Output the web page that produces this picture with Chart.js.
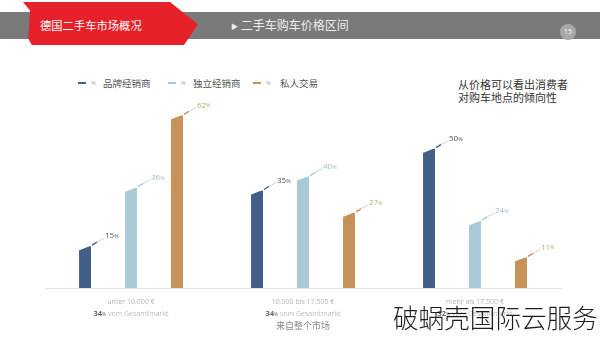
<!DOCTYPE html>
<html><head><meta charset="utf-8">
<script src="https://cdn.jsdelivr.net/npm/chart.js@4/dist/chart.umd.min.js"></script>
<style>
html,body{margin:0;padding:0;background:#fff;width:600px;height:337px;overflow:hidden;font-family:"Noto Sans CJK SC","Noto Sans",sans-serif;}
#wrap{position:relative;width:600px;height:337px;}
#c{position:absolute;left:0;top:0;}
.abs{position:absolute;white-space:nowrap;}
#band{left:0;top:12px;width:600px;height:27px;background:#7a7a7a;}
#red{left:23px;top:2px;width:175px;height:43px;background:#e62129;clip-path:polygon(0 0,84% 0,100% 52%,92% 100%,5% 100%,3% 85%,4% 20%);}
#t1{left:40px;top:17px;font-size:11.3px;line-height:16px;color:#fff;}
#t2{left:231px;top:16px;font-size:12px;line-height:18px;color:#eee;}
#pg{left:560px;top:24px;width:16px;height:16px;border-radius:50%;background:#a8a8a8;color:#fff;font:7px "Open Sans",sans-serif;line-height:16px;text-align:center;}
#note{left:458px;top:78px;font-size:11px;line-height:13px;color:#333;}
#wm{left:393px;top:304px;font-size:25.6px;line-height:26px;font-weight:300;color:#1e1e1e;}
.lg{position:absolute;top:76px;height:14px;white-space:nowrap;}
.lg .ln{position:absolute;top:6px;width:8px;height:2px;}
.lg .pc{position:absolute;top:0;font:6px "Open Sans",sans-serif;line-height:14px;color:#aaa;white-space:nowrap;}
.lg .nm{position:absolute;top:0;font-size:9.5px;line-height:14px;color:#555;white-space:nowrap;}
</style></head>
<body><div id="wrap">
<div id="band" class="abs"></div>
<div id="red" class="abs"></div>
<div id="t1" class="abs">德国二手车市场概况</div>
<div id="t2" class="abs"><span style="font-size:7px;vertical-align:1px">▶</span> 二手车购车价格区间</div>
<div id="pg" class="abs">15</div>
<div id="note" class="abs">从价格可以看出消费者<br>对购车地点的倾向性</div>
<div id="legend"></div>
<canvas id="c" width="600" height="337"></canvas>
<div id="wm" class="abs">破蜗壳国际云服务</div>
</div>
<script>
const categories = ["unter 10.000 €", "10.000 bis 17.500 €", "mehr als 17.500 €"];
const marketShare = [34, 34, 32];
const seriesNames = ["品牌经销商", "独立经销商", "私人交易"];
const brandDealer = [15, 35, 50];
const independentDealer = [36, 40, 24];
const privateSale = [62, 27, 11];
const barColors = ["#415f88", "#a9c9d7", "#c89158"];
const labelColors = ["#4d5868", "#a6c0cc", "#b8ad74"];

// legend (HTML)
const legendX = [78, 168, 253];
const lg = document.getElementById('legend');
seriesNames.forEach((n, i) => {
  const d = document.createElement('div');
  d.className = 'lg';
  d.style.left = legendX[i] + 'px';
  d.innerHTML = '<div class="ln" style="left:0;background:' + barColors[i] + '"></div>' +
    '<div class="pc" style="left:13px">%</div>' +
    '<div class="nm" style="left:' + (i === 2 ? 27 : 25) + 'px">' + n + '</div>';
  lg.appendChild(d);
});

const decor = {
  id: 'decor',
  afterDatasetsDraw(chart) {
    const ctx = chart.ctx;
    chart.data.datasets.forEach((ds, di) => {
      const meta = chart.getDatasetMeta(di);
      meta.data.forEach((el, i) => {
        const w = el.width, l = el.x - w / 2, r = el.x + w / 2, y = el.y;
        ctx.save();
        // slanted top
        ctx.fillStyle = '#fff';
        ctx.beginPath();
        ctx.moveTo(l - 1, y - 1); ctx.lineTo(r + 1, y - 1); ctx.lineTo(l - 1, y + 4.5); ctx.closePath();
        ctx.fill();
        // leader line
        ctx.lineWidth = 1.4;
        ctx.strokeStyle = barColors[di];
        ctx.beginPath(); ctx.moveTo(r + 1, y - 1); ctx.lineTo(r + 6, y - 4); ctx.stroke();
        ctx.strokeStyle = '#d2d2d2';
        ctx.lineWidth = 1;
        ctx.beginPath(); ctx.moveTo(r + 6, y - 4); ctx.lineTo(r + 13, y - 8); ctx.stroke();
        // label
        const v = ds.data[i];
        ctx.fillStyle = labelColors[di];
        ctx.textBaseline = 'middle';
        ctx.textAlign = 'left';
        ctx.font = '8px "Open Sans", sans-serif';
        const t = String(v);
        ctx.fillText(t, r + 14, y - 10);
        const tw = ctx.measureText(t).width;
        ctx.font = '5.5px "Open Sans", sans-serif';
        ctx.fillText('%', r + 14 + tw, y - 9.5);
        ctx.restore();
      });
    });
  },
  afterDraw(chart) {
    const ctx = chart.ctx;
    const xs = chart.scales.x;
    ctx.save();
    ctx.textBaseline = 'middle';
    categories.forEach((c, i) => {
      const cx = xs.getPixelForValue(i);
      ctx.textAlign = 'center';
      ctx.fillStyle = '#b3b3b3';
      ctx.font = '7px "Open Sans", sans-serif';
      ctx.fillText(c, cx, 302);
      const a = String(marketShare[i]);
      const rest = ' vom Gesamtmarkt';
      ctx.font = 'bold 7.5px "Open Sans", sans-serif';
      const wa = ctx.measureText(a).width;
      ctx.font = '5px "Open Sans", sans-serif';
      const wp = ctx.measureText('%').width;
      ctx.font = '7px "Open Sans", sans-serif';
      const wr = ctx.measureText(rest).width;
      let x0 = cx - (wa + wp + wr) / 2;
      ctx.textAlign = 'left';
      ctx.font = 'bold 7.5px "Open Sans", sans-serif';
      ctx.fillStyle = '#6a6a6a';
      ctx.fillText(a, x0, 314);
      ctx.font = '5px "Open Sans", sans-serif';
      ctx.fillText('%', x0 + wa, 314.5);
      ctx.font = '7px "Open Sans", sans-serif';
      ctx.fillStyle = '#bdbdbd';
      ctx.fillText(rest, x0 + wa + wp, 314);
      if (i === 1) {
        ctx.textAlign = 'center';
        ctx.fillStyle = '#8a8a8a';
        ctx.font = '9px "Noto Sans CJK SC", sans-serif';
        ctx.fillText('来自整个市场', cx, 326);
      }
    });
    ctx.restore();
  }
};

new Chart(document.getElementById('c'), {
  type: 'bar',
  data: {
    labels: categories,
    datasets: [
      { label: seriesNames[0], data: brandDealer, backgroundColor: barColors[0] },
      { label: seriesNames[1], data: independentDealer, backgroundColor: barColors[1] },
      { label: seriesNames[2], data: privateSale, backgroundColor: barColors[2] }
    ]
  },
  options: {
    responsive: false,
    devicePixelRatio: 1,
    animation: false,
    categoryPercentage: 0.802,
    barPercentage: 0.26,
    layout: { padding: { left: 45, right: 39, top: 93, bottom: 49 } },
    plugins: { legend: { display: false }, tooltip: { enabled: false } },
    scales: {
      x: {
        display: true,
        ticks: { display: false },
        grid: { display: false, drawTicks: false },
        border: { display: true, color: '#e2e2e2', width: 1 }
      },
      y: { display: false, min: 0, max: 70 }
    }
  },
  plugins: [decor]
});
</script>
</body></html>
